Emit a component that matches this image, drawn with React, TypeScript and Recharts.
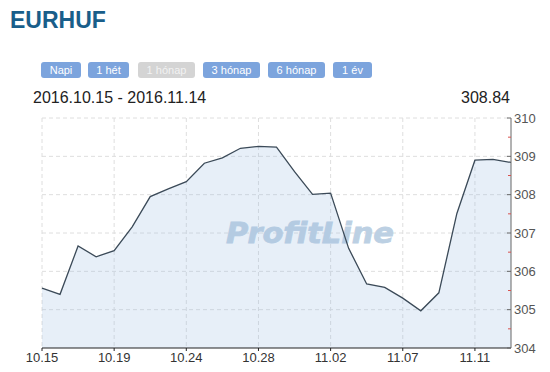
import { AreaChart, Area, Line, XAxis, YAxis, CartesianGrid, Customized } from 'recharts';

// EURHUF daily closes, 2016.10.15 - 2016.11.14
const rates = [
  305.56, 305.4, 306.66, 306.38, 306.54, 307.16, 307.95, 308.15, 308.34, 308.82,
  308.96, 309.21, 309.26, 309.24, 308.6, 308.01, 308.04, 306.6, 305.67, 305.58,
  305.3, 304.97, 305.44, 307.51, 308.9, 308.92, 308.84,
];

const xTickIndex = [0, 4, 8, 12, 16, 20, 24];
const xTickLabels = ['10.15', '10.19', '10.24', '10.28', '11.02', '11.07', '11.11'];

const yGridValues = [305, 306, 307, 308, 309, 310];
const yAllTicks = [304, 304.5, 305, 305.5, 306, 306.5, 307, 307.5, 308, 308.5, 309, 309.5, 310];

const periods = ['Napi', '1 hét', '1 hónap', '3 hónap', '6 hónap', '1 év'];
const activePeriod = '1 hónap';

const data = rates.map((v, i) => ({ i, v }));

const font = 'Arial, "Liberation Sans", sans-serif';

const YTick = (props: any) => {
  const { x, y, payload } = props;
  const major = Number.isInteger(payload.value);
  if (!major) {
    return <line x1={x - 3} x2={x} y1={y} y2={y} stroke="#d9534f" strokeWidth={1} />;
  }
  return (
    <g>
      <line x1={x - 4} x2={x} y1={y} y2={y} stroke="#666" strokeWidth={1} />
      <text x={x + 3} y={y} dy={4.5} fill="#555" fontSize={13} fontFamily={font} textAnchor="start">
        {payload.value}
      </text>
    </g>
  );
};

// watermark sits under the (translucent) area fill and the line
const Watermark = () => (
  <text
    x={226}
    y={243}
    fontSize={29}
    fontWeight="bold"
    fontStyle="italic"
    fontFamily='"DejaVu Sans", sans-serif'
    fill="#bcd0e3"
    stroke="#bcd0e3"
    strokeWidth={0.8}
    textLength={168}
    lengthAdjust="spacingAndGlyphs"
  >
    ProfitLine
  </text>
);

export default function App() {
  return (
    <div style={{ position: 'absolute', left: 0, top: 0, width: 550, height: 372, background: '#fff', fontFamily: font }}>
      <div style={{ position: 'absolute', left: 10, top: 7, fontSize: 23, fontWeight: 'bold', color: '#195e8a' }}>EURHUF</div>

      {periods.map((p, idx) => {
        const lefts = [41, 88, 138, 203, 268, 333];
        const widths = [40, 41, 57, 57, 57, 39];
        const off = p === activePeriod;
        return (
          <div
            key={p}
            style={{
              position: 'absolute',
              left: lefts[idx],
              top: 62,
              width: widths[idx],
              height: 16,
              lineHeight: '16px',
              borderRadius: 3,
              background: off ? '#d4d4d4' : '#7ca4dd',
              color: off ? '#f2f2f2' : '#fff',
              fontSize: 11,
              textAlign: 'center',
            }}
          >
            {p}
          </div>
        );
      })}

      <div style={{ position: 'absolute', left: 33, top: 89, fontSize: 16, color: '#222' }}>2016.10.15 - 2016.11.14</div>
      <div style={{ position: 'absolute', right: 40, top: 89, fontSize: 16, color: '#222' }}>308.84</div>

      <div style={{ position: 'absolute', left: 0, top: 0 }}>
        <AreaChart width={550} height={372} data={data} margin={{ top: 118, right: 0, bottom: 0, left: 42 }}>
          <CartesianGrid
            stroke="#dedede"
            strokeDasharray="4 3"
            horizontalValues={yGridValues}
            verticalValues={xTickIndex}
          />
          <XAxis
            type="number"
            dataKey="i"
            domain={[0, rates.length - 1]}
            ticks={xTickIndex}
            tickFormatter={(i: number) => xTickLabels[xTickIndex.indexOf(i)]}
            height={24}
            tickSize={3}
            tickMargin={2}
            axisLine={{ stroke: '#222', strokeWidth: 1.2 }}
            tickLine={{ stroke: '#222' }}
            tick={{ fill: '#333', fontSize: 13, fontFamily: font }}
            interval={0}
          />
          <YAxis
            orientation="right"
            domain={[304, 310]}
            ticks={yAllTicks}
            width={39}
            tickSize={0}
            tickMargin={0}
            tickLine={false}
            axisLine={{ stroke: '#666' }}
            tick={<YTick />}
            interval={0}
          />
          <Customized component={Watermark} />
          <Area type="linear" dataKey="v" stroke="none" fill="#9bbbe0" fillOpacity={0.24} isAnimationActive={false} />
          <Line type="linear" dataKey="v" stroke="#3b4a58" strokeWidth={1.3} dot={false} isAnimationActive={false} />
        </AreaChart>
      </div>
    </div>
  );
}
